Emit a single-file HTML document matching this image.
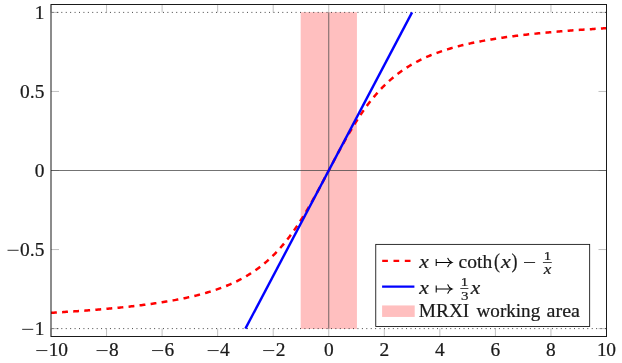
<!DOCTYPE html>
<html><head><meta charset="utf-8"><style>
html,body{margin:0;padding:0;background:#fff;}
svg text{stroke:#1a1a1a;stroke-width:0.22px;}
svg{display:block;will-change:transform;opacity:0.9999;font-family:"Liberation Serif",serif;fill:#1a1a1a;}
</style></head><body>
<svg width="622" height="363" viewBox="0 0 622 363">
<rect width="622" height="363" fill="#fff"/>
<rect x="300.68" y="12.20" width="56.25" height="316.69" fill="#ffbfbf"/>
<path d="M51.00,336.5 v-8.0 M51.00,4.5 v8.0" stroke="#808080" stroke-width="0.5" fill="none"/>
<path d="M106.55,336.5 v-8.0 M106.55,4.5 v8.0" stroke="#808080" stroke-width="0.5" fill="none"/>
<path d="M162.10,336.5 v-8.0 M162.10,4.5 v8.0" stroke="#808080" stroke-width="0.5" fill="none"/>
<path d="M217.65,336.5 v-8.0 M217.65,4.5 v8.0" stroke="#808080" stroke-width="0.5" fill="none"/>
<path d="M273.20,336.5 v-8.0 M273.20,4.5 v8.0" stroke="#808080" stroke-width="0.5" fill="none"/>
<path d="M328.75,336.5 v-8.0 M328.75,4.5 v8.0" stroke="#808080" stroke-width="0.5" fill="none"/>
<path d="M384.30,336.5 v-8.0 M384.30,4.5 v8.0" stroke="#808080" stroke-width="0.5" fill="none"/>
<path d="M439.85,336.5 v-8.0 M439.85,4.5 v8.0" stroke="#808080" stroke-width="0.5" fill="none"/>
<path d="M495.40,336.5 v-8.0 M495.40,4.5 v8.0" stroke="#808080" stroke-width="0.5" fill="none"/>
<path d="M550.95,336.5 v-8.0 M550.95,4.5 v8.0" stroke="#808080" stroke-width="0.5" fill="none"/>
<path d="M606.50,336.5 v-8.0 M606.50,4.5 v8.0" stroke="#808080" stroke-width="0.5" fill="none"/>
<path d="M51.0,328.60 h8.0 M606.5,328.60 h-8.0" stroke="#808080" stroke-width="0.5" fill="none"/>
<path d="M51.0,249.55 h8.0 M606.5,249.55 h-8.0" stroke="#808080" stroke-width="0.5" fill="none"/>
<path d="M51.0,170.50 h8.0 M606.5,170.50 h-8.0" stroke="#808080" stroke-width="0.5" fill="none"/>
<path d="M51.0,91.45 h8.0 M606.5,91.45 h-8.0" stroke="#808080" stroke-width="0.5" fill="none"/>
<path d="M51.0,12.40 h8.0 M606.5,12.40 h-8.0" stroke="#808080" stroke-width="0.5" fill="none"/>
<path d="M52.5,12.40 H606.5" stroke="#333" stroke-width="0.95" stroke-dasharray="0.95 3.47" fill="none"/>
<path d="M52.5,328.60 H606.5" stroke="#333" stroke-width="0.95" stroke-dasharray="0.95 3.47" fill="none"/>
<path d="M51.0,170.50 H606.5 M328.75,12.40 V328.60" stroke="#444" stroke-width="0.75" fill="none"/>
<path d="M51.00,312.79 L52.39,312.71 L53.78,312.63 L55.17,312.54 L56.55,312.46 L57.94,312.38 L59.33,312.30 L60.72,312.21 L62.11,312.13 L63.50,312.04 L64.89,311.95 L66.28,311.87 L67.66,311.78 L69.05,311.69 L70.44,311.60 L71.83,311.50 L73.22,311.41 L74.61,311.32 L76.00,311.22 L77.39,311.13 L78.78,311.03 L80.16,310.93 L81.55,310.83 L82.94,310.73 L84.33,310.63 L85.72,310.53 L87.11,310.42 L88.50,310.32 L89.89,310.21 L91.27,310.10 L92.66,310.00 L94.05,309.89 L95.44,309.77 L96.83,309.66 L98.22,309.55 L99.61,309.43 L101.00,309.32 L102.38,309.20 L103.77,309.08 L105.16,308.96 L106.55,308.83 L107.94,308.71 L109.33,308.58 L110.72,308.46 L112.11,308.33 L113.49,308.20 L114.88,308.06 L116.27,307.93 L117.66,307.79 L119.05,307.66 L120.44,307.52 L121.83,307.37 L123.21,307.23 L124.60,307.09 L125.99,306.94 L127.38,306.79 L128.77,306.64 L130.16,306.48 L131.55,306.33 L132.94,306.17 L134.32,306.01 L135.71,305.85 L137.10,305.68 L138.49,305.52 L139.88,305.35 L141.27,305.17 L142.66,305.00 L144.05,304.82 L145.44,304.64 L146.82,304.46 L148.21,304.27 L149.60,304.09 L150.99,303.89 L152.38,303.70 L153.77,303.50 L155.16,303.30 L156.54,303.10 L157.93,302.89 L159.32,302.68 L160.71,302.47 L162.10,302.25 L163.49,302.03 L164.88,301.80 L166.27,301.57 L167.66,301.34 L169.04,301.10 L170.43,300.86 L171.82,300.62 L173.21,300.37 L174.60,300.11 L175.99,299.86 L177.38,299.59 L178.76,299.32 L180.15,299.05 L181.54,298.77 L182.93,298.49 L184.32,298.20 L185.71,297.91 L187.10,297.61 L188.49,297.30 L189.88,296.99 L191.26,296.67 L192.65,296.35 L194.04,296.02 L195.43,295.68 L196.82,295.34 L198.21,294.98 L199.60,294.63 L200.99,294.26 L202.37,293.88 L203.76,293.50 L205.15,293.11 L206.54,292.71 L207.93,292.30 L209.32,291.89 L210.71,291.46 L212.09,291.02 L213.48,290.58 L214.87,290.12 L216.26,289.66 L217.65,289.18 L219.04,288.69 L220.43,288.19 L221.82,287.67 L223.20,287.15 L224.59,286.61 L225.98,286.06 L227.37,285.50 L228.76,284.92 L230.15,284.32 L231.54,283.71 L232.93,283.09 L234.31,282.45 L235.70,281.79 L237.09,281.12 L238.48,280.43 L239.87,279.72 L241.26,278.99 L242.65,278.24 L244.04,277.47 L245.42,276.68 L246.81,275.87 L248.20,275.04 L249.59,274.18 L250.98,273.31 L252.37,272.40 L253.76,271.48 L255.15,270.52 L256.53,269.54 L257.92,268.54 L259.31,267.50 L260.70,266.44 L262.09,265.35 L263.48,264.22 L264.87,263.07 L266.26,261.88 L267.64,260.66 L269.03,259.41 L270.42,258.13 L271.81,256.80 L273.20,255.45 L274.59,254.05 L275.98,252.62 L277.37,251.15 L278.75,249.65 L280.14,248.10 L281.53,246.51 L282.92,244.89 L284.31,243.22 L285.70,241.51 L287.09,239.77 L288.48,237.97 L289.87,236.14 L291.25,234.27 L292.64,232.35 L294.03,230.39 L295.42,228.40 L296.81,226.35 L298.20,224.27 L299.59,222.15 L300.98,219.99 L302.36,217.79 L303.75,215.55 L305.14,213.27 L306.53,210.96 L307.92,208.62 L309.31,206.24 L310.70,203.83 L312.08,201.39 L313.47,198.92 L314.86,196.42 L316.25,193.90 L317.64,191.36 L319.03,188.80 L320.42,186.22 L321.81,183.62 L323.19,181.01 L324.58,178.39 L325.97,175.77 L327.36,173.13 L328.75,170.50 L330.14,167.87 L331.53,165.23 L332.92,162.61 L334.30,159.99 L335.69,157.38 L337.08,154.78 L338.47,152.20 L339.86,149.64 L341.25,147.10 L342.64,144.58 L344.03,142.08 L345.41,139.61 L346.80,137.17 L348.19,134.76 L349.58,132.38 L350.97,130.04 L352.36,127.73 L353.75,125.45 L355.14,123.21 L356.52,121.01 L357.91,118.85 L359.30,116.73 L360.69,114.65 L362.08,112.60 L363.47,110.61 L364.86,108.65 L366.25,106.73 L367.63,104.86 L369.02,103.03 L370.41,101.23 L371.80,99.49 L373.19,97.78 L374.58,96.11 L375.97,94.49 L377.36,92.90 L378.75,91.35 L380.13,89.85 L381.52,88.38 L382.91,86.95 L384.30,85.55 L385.69,84.20 L387.08,82.87 L388.47,81.59 L389.85,80.34 L391.24,79.12 L392.63,77.93 L394.02,76.78 L395.41,75.65 L396.80,74.56 L398.19,73.50 L399.58,72.46 L400.96,71.46 L402.35,70.48 L403.74,69.52 L405.13,68.60 L406.52,67.69 L407.91,66.82 L409.30,65.96 L410.69,65.13 L412.07,64.32 L413.46,63.53 L414.85,62.76 L416.24,62.01 L417.63,61.28 L419.02,60.57 L420.41,59.88 L421.80,59.21 L423.19,58.55 L424.57,57.91 L425.96,57.29 L427.35,56.68 L428.74,56.08 L430.13,55.50 L431.52,54.94 L432.91,54.39 L434.30,53.85 L435.68,53.33 L437.07,52.81 L438.46,52.31 L439.85,51.82 L441.24,51.34 L442.63,50.88 L444.02,50.42 L445.40,49.98 L446.79,49.54 L448.18,49.11 L449.57,48.70 L450.96,48.29 L452.35,47.89 L453.74,47.50 L455.13,47.12 L456.51,46.74 L457.90,46.37 L459.29,46.02 L460.68,45.66 L462.07,45.32 L463.46,44.98 L464.85,44.65 L466.24,44.33 L467.62,44.01 L469.01,43.70 L470.40,43.39 L471.79,43.09 L473.18,42.80 L474.57,42.51 L475.96,42.23 L477.35,41.95 L478.74,41.68 L480.12,41.41 L481.51,41.14 L482.90,40.89 L484.29,40.63 L485.68,40.38 L487.07,40.14 L488.46,39.90 L489.84,39.66 L491.23,39.43 L492.62,39.20 L494.01,38.97 L495.40,38.75 L496.79,38.53 L498.18,38.32 L499.57,38.11 L500.95,37.90 L502.34,37.70 L503.73,37.50 L505.12,37.30 L506.51,37.11 L507.90,36.91 L509.29,36.73 L510.68,36.54 L512.07,36.36 L513.45,36.18 L514.84,36.00 L516.23,35.83 L517.62,35.65 L519.01,35.48 L520.40,35.32 L521.79,35.15 L523.17,34.99 L524.56,34.83 L525.95,34.67 L527.34,34.52 L528.73,34.36 L530.12,34.21 L531.51,34.06 L532.90,33.91 L534.28,33.77 L535.67,33.63 L537.06,33.48 L538.45,33.34 L539.84,33.21 L541.23,33.07 L542.62,32.94 L544.01,32.80 L545.39,32.67 L546.78,32.54 L548.17,32.42 L549.56,32.29 L550.95,32.17 L552.34,32.04 L553.73,31.92 L555.12,31.80 L556.50,31.68 L557.89,31.57 L559.28,31.45 L560.67,31.34 L562.06,31.23 L563.45,31.11 L564.84,31.00 L566.23,30.90 L567.62,30.79 L569.00,30.68 L570.39,30.58 L571.78,30.47 L573.17,30.37 L574.56,30.27 L575.95,30.17 L577.34,30.07 L578.73,29.97 L580.11,29.87 L581.50,29.78 L582.89,29.68 L584.28,29.59 L585.67,29.50 L587.06,29.40 L588.45,29.31 L589.83,29.22 L591.22,29.13 L592.61,29.05 L594.00,28.96 L595.39,28.87 L596.78,28.79 L598.17,28.70 L599.56,28.62 L600.94,28.54 L602.33,28.46 L603.72,28.37 L605.11,28.29 L606.50,28.21" stroke="#ff0000" stroke-width="2.5" stroke-dasharray="5.85 5.265" fill="none"/>
<path d="M245.42,328.60 L412.07,12.40" stroke="#0000ff" stroke-width="2.4" fill="none"/>
<rect x="51.0" y="4.5" width="555.5" height="332.0" fill="none" stroke="#1a1a1a" stroke-width="1"/>
<rect x="36.26" y="350.15" width="11.09" height="0.9" fill="#1a1a1a"/>
<text x="48.76" y="355.60" font-size="18.1" textLength="9.7" lengthAdjust="spacingAndGlyphs">1</text>
<text x="58.16" y="355.60" font-size="18.1" textLength="9.7" lengthAdjust="spacingAndGlyphs">0</text>
<rect x="96.51" y="350.15" width="11.09" height="0.9" fill="#1a1a1a"/>
<text x="109.01" y="355.60" font-size="18.1" textLength="9.7" lengthAdjust="spacingAndGlyphs">8</text>
<rect x="152.06" y="350.15" width="11.09" height="0.9" fill="#1a1a1a"/>
<text x="164.56" y="355.60" font-size="18.1" textLength="9.7" lengthAdjust="spacingAndGlyphs">6</text>
<rect x="207.61" y="350.15" width="11.09" height="0.9" fill="#1a1a1a"/>
<text x="220.11" y="355.60" font-size="18.1" textLength="9.7" lengthAdjust="spacingAndGlyphs">4</text>
<rect x="263.16" y="350.15" width="11.09" height="0.9" fill="#1a1a1a"/>
<text x="275.66" y="355.60" font-size="18.1" textLength="9.7" lengthAdjust="spacingAndGlyphs">2</text>
<text x="323.90" y="355.60" font-size="18.1" textLength="9.7" lengthAdjust="spacingAndGlyphs">0</text>
<text x="379.45" y="355.60" font-size="18.1" textLength="9.7" lengthAdjust="spacingAndGlyphs">2</text>
<text x="435.00" y="355.60" font-size="18.1" textLength="9.7" lengthAdjust="spacingAndGlyphs">4</text>
<text x="490.55" y="355.60" font-size="18.1" textLength="9.7" lengthAdjust="spacingAndGlyphs">6</text>
<text x="546.10" y="355.60" font-size="18.1" textLength="9.7" lengthAdjust="spacingAndGlyphs">8</text>
<text x="596.95" y="355.60" font-size="18.1" textLength="9.7" lengthAdjust="spacingAndGlyphs">1</text>
<text x="606.35" y="355.60" font-size="18.1" textLength="9.7" lengthAdjust="spacingAndGlyphs">0</text>
<rect x="22.15" y="328.85" width="11.09" height="0.9" fill="#1a1a1a"/>
<text x="34.65" y="335.00" font-size="18.1" textLength="9.7" lengthAdjust="spacingAndGlyphs">1</text>
<rect x="7.52" y="249.80" width="11.09" height="0.9" fill="#1a1a1a"/>
<text x="20.02" y="255.95" font-size="18.1" textLength="9.7" lengthAdjust="spacingAndGlyphs">0</text>
<text x="32.19" y="255.95" font-size="18.1" text-anchor="middle">.</text>
<text x="34.65" y="255.95" font-size="18.1" textLength="9.7" lengthAdjust="spacingAndGlyphs">5</text>
<text x="34.65" y="176.90" font-size="18.1" textLength="9.7" lengthAdjust="spacingAndGlyphs">0</text>
<text x="20.02" y="97.85" font-size="18.1" textLength="9.7" lengthAdjust="spacingAndGlyphs">0</text>
<text x="32.19" y="97.85" font-size="18.1" text-anchor="middle">.</text>
<text x="34.65" y="97.85" font-size="18.1" textLength="9.7" lengthAdjust="spacingAndGlyphs">5</text>
<text x="34.65" y="18.80" font-size="18.1" textLength="9.7" lengthAdjust="spacingAndGlyphs">1</text>
<rect x="375.75" y="244.4" width="213.90" height="82.10" fill="#fff" stroke="#1a1a1a" stroke-width="0.9"/>
<path d="M382.2,260.95 H414.4" stroke="#ff0000" stroke-width="2.3" stroke-dasharray="5.7 5.6" fill="none"/>
<path d="M382.1,286.7 H414.4" stroke="#0000ff" stroke-width="2.3" fill="none"/>
<rect x="382.1" y="305.45" width="32.6" height="11.5" fill="#ffbfbf"/>
<text x="419.20" y="267.50" font-size="18.6" font-style="italic" textLength="9.60" lengthAdjust="spacingAndGlyphs">x</text>
<path d="M436.2,259.1 V265.9 M436.2,262.5 H451.1" stroke="#000" stroke-width="1.05" fill="none"/><path d="M447.6,257.8 C448.4,260.3 450.0,261.8 452.0,262.5 C450.0,263.2 448.4,264.7 447.6,267.2" stroke="#000" stroke-width="1.1" fill="none"/><path d="M451.8,262.5 L449.6,261.3 L449.6,263.7 Z" fill="#1a1a1a"/>
<text x="458.60" y="267.50" font-size="18.6" textLength="33.60" lengthAdjust="spacingAndGlyphs">coth</text>
<text x="493.90" y="267.90" font-size="20.8" textLength="6.00" lengthAdjust="spacingAndGlyphs">(</text>
<text x="500.90" y="267.50" font-size="18.6" font-style="italic" textLength="9.80" lengthAdjust="spacingAndGlyphs">x</text>
<text x="511.50" y="267.90" font-size="20.8" textLength="6.00" lengthAdjust="spacingAndGlyphs">)</text>
<rect x="524.0" y="262.1" width="11.1" height="0.9" fill="#1a1a1a"/>
<text x="543.75" y="259.90" font-size="13.4" textLength="7.5" lengthAdjust="spacingAndGlyphs">1</text>
<rect x="542.9" y="262.1" width="8.9" height="0.8" fill="#1a1a1a"/>
<text x="543.70" y="273.70" font-size="14.4" font-style="italic" textLength="7.60" lengthAdjust="spacingAndGlyphs">x</text>
<text x="419.20" y="293.60" font-size="18.6" font-style="italic" textLength="9.60" lengthAdjust="spacingAndGlyphs">x</text>
<path d="M436.2,285.6 V292.4 M436.2,289.0 H451.1" stroke="#000" stroke-width="1.05" fill="none"/><path d="M447.6,284.3 C448.4,286.8 450.0,288.3 452.0,289.0 C450.0,289.7 448.4,291.2 447.6,293.7" stroke="#000" stroke-width="1.1" fill="none"/><path d="M451.8,289.0 L449.6,287.8 L449.6,290.2 Z" fill="#1a1a1a"/>
<text x="460.85" y="286.40" font-size="13.4" textLength="7.5" lengthAdjust="spacingAndGlyphs">1</text>
<rect x="460.3" y="288.2" width="8.1" height="0.8" fill="#1a1a1a"/>
<text x="460.95" y="299.80" font-size="13.4" textLength="7.5" lengthAdjust="spacingAndGlyphs">3</text>
<text x="470.70" y="293.60" font-size="18.6" font-style="italic" textLength="9.50" lengthAdjust="spacingAndGlyphs">x</text>
<text x="418.80" y="316.60" font-size="18.6" textLength="50.50" lengthAdjust="spacingAndGlyphs">MRXI</text>
<text x="476.60" y="316.60" font-size="18.6" textLength="63.60" lengthAdjust="spacingAndGlyphs">working</text>
<text x="546.60" y="316.60" font-size="18.6" textLength="33.40" lengthAdjust="spacingAndGlyphs">area</text>
</svg>
</body></html>
